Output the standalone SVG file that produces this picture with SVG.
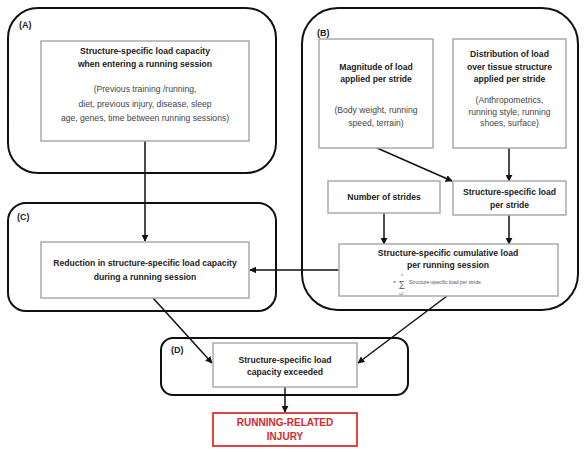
<svg xmlns="http://www.w3.org/2000/svg" width="588" height="452" viewBox="0 0 588 452">
<defs>
<marker id="ah" viewBox="0 0 10 10" refX="9" refY="5" markerWidth="7" markerHeight="7" markerUnits="userSpaceOnUse" orient="auto">
<path d="M0,0 L10,5 L0,10 z" fill="#111"/>
</marker>
<style>
.outer{fill:none;stroke:#111;stroke-width:2}
.box{fill:#fff;stroke:#aaa;stroke-width:1.5}
.lbl{font-family:"Liberation Sans",Arial,sans-serif;font-size:9px;font-weight:bold;fill:#222}
.t{font-family:"Liberation Sans",Arial,sans-serif;font-size:8.6px;font-weight:bold;fill:#222;text-anchor:middle}
.p{font-family:"Liberation Sans",Arial,sans-serif;font-size:8.6px;fill:#444;text-anchor:middle}
.s{font-family:"Liberation Sans",Arial,sans-serif;fill:#555}
.c{fill:none;stroke:#111;stroke-width:1.5;marker-end:url(#ah)}
.inj{fill:#fff;stroke:#e03030;stroke-width:1.8}
.it{font-family:"Liberation Sans",Arial,sans-serif;font-size:10px;font-weight:bold;fill:#d42a2a;text-anchor:middle}
</style>
</defs>
<rect width="588" height="452" fill="#fff"/>
<g id="groupA">
<rect class="outer" x="8" y="8" width="268" height="165" rx="30"/>
<text class="lbl" x="19" y="28">(A)</text>
</g>
<g id="groupB">
<rect class="outer" x="302" y="8" width="276" height="302" rx="36"/>
<text class="lbl" x="317" y="36">(B)</text>
</g>
<g id="groupC">
<rect class="outer" x="8" y="203" width="268" height="108" rx="18"/>
<text class="lbl" x="17" y="220">(C)</text>
</g>
<g id="groupD">
<rect class="outer" x="161" y="338" width="247" height="57" rx="12"/>
<text class="lbl" x="171" y="353">(D)</text>
</g>
<g id="connectors">
<line class="c" x1="145" y1="141" x2="145" y2="241"/>
<line class="c" x1="377" y1="148" x2="452" y2="181"/>
<line class="c" x1="509" y1="148" x2="509" y2="181"/>
<line class="c" x1="384" y1="213" x2="384" y2="244"/>
<line class="c" x1="509" y1="215" x2="509" y2="244"/>
<line class="c" x1="339" y1="270" x2="250" y2="270"/>
<line class="c" x1="153" y1="298" x2="212" y2="363"/>
<line class="c" x1="447" y1="296" x2="358" y2="363"/>
<line class="c" x1="285" y1="387" x2="285" y2="412"/>
</g>
<g id="nodeA">
<rect class="box" x="41" y="41" width="208" height="100"/>
<text class="t" x="145" y="54">Structure-specific load capacity</text>
<text class="t" x="145" y="67">when entering a running session</text>
<text class="p" x="145" y="92">(Previous training /running,</text>
<text class="p" x="145" y="107">diet, previous injury, disease, sleep</text>
<text class="p" x="145" y="121">age, genes, time between running sessions)</text>
</g>
<g id="nodeMagnitude">
<rect class="box" x="319" y="39" width="114" height="109"/>
<text class="t" x="376" y="70">Magnitude of load</text>
<text class="t" x="376" y="82">applied per stride</text>
<text class="p" x="376" y="113">(Body weight, running</text>
<text class="p" x="376" y="126">speed, terrain)</text>
</g>
<g id="nodeDistribution">
<rect class="box" x="453" y="39" width="113" height="109"/>
<text class="t" x="509.5" y="57">Distribution of load</text>
<text class="t" x="509.5" y="70">over tissue structure</text>
<text class="t" x="509.5" y="82">applied per stride</text>
<text class="p" x="509.5" y="103">(Anthropometrics,</text>
<text class="p" x="509.5" y="115">running style, running</text>
<text class="p" x="509.5" y="126">shoes, surface)</text>
</g>
<g id="nodeStrides">
<rect class="box" x="328" y="181" width="112" height="32"/>
<text class="t" x="384" y="200">Number of strides</text>
</g>
<g id="nodeLoadPerStride">
<rect class="box" x="453" y="181" width="113" height="34"/>
<text class="t" x="509.5" y="195">Structure-specific load</text>
<text class="t" x="509.5" y="208">per stride</text>
</g>
<g id="nodeCumulative">
<rect class="box" x="339" y="244" width="219" height="52"/>
<text class="t" x="448" y="256">Structure-specific cumulative load</text>
<text class="t" x="448" y="268">per running session</text>
<text class="s" x="393" y="284" font-size="5">=</text>
<text class="s" x="398.5" y="286.5" font-size="9">∑</text>
<text class="s" x="401" y="275.5" font-size="3.5">n</text>
<text class="s" x="399" y="294.5" font-size="3.5">i=1</text>
<text class="s" x="409" y="284" font-size="5">Structure-specific load per stride</text>
</g>
<g id="nodeC">
<rect class="box" x="41" y="242" width="208" height="56"/>
<text class="t" x="145" y="266">Reduction in structure-specific load capacity</text>
<text class="t" x="145" y="280">during a running session</text>
</g>
<g id="nodeD">
<rect class="box" x="213" y="343" width="144" height="44"/>
<text class="t" x="285" y="363">Structure-specific load</text>
<text class="t" x="285" y="375">capacity exceeded</text>
</g>
<g id="nodeInjury">
<rect class="inj" x="213" y="413" width="144" height="33"/>
<text class="it" x="285" y="426">RUNNING-RELATED</text>
<text class="it" x="285" y="440">INJURY</text>
</g>
</svg>
